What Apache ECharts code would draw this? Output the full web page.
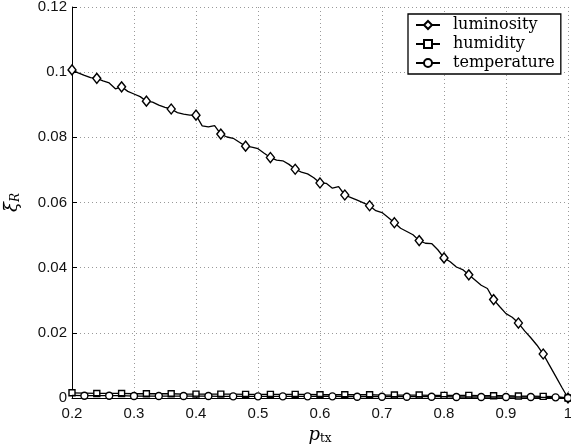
<!DOCTYPE html>
<html>
<head>
<meta charset="utf-8">
<script src="https://cdn.jsdelivr.net/npm/echarts@6/dist/echarts.min.js"></script>
<style>
  html, body { margin: 0; padding: 0; background: #fff; }
  #chart { width: 571px; height: 445px; }
</style>
</head>
<body>
<div id="chart"></div>
<script>
// Transmission probability grid (fine: 0.01 step, coarse: 0.02 step)
const pTxFine = [
  0.20, 0.21, 0.22, 0.23, 0.24, 0.25, 0.26, 0.27, 0.28, 0.29,
  0.30, 0.31, 0.32, 0.33, 0.34, 0.35, 0.36, 0.37, 0.38, 0.39,
  0.40, 0.41, 0.42, 0.43, 0.44, 0.45, 0.46, 0.47, 0.48, 0.49,
  0.50, 0.51, 0.52, 0.53, 0.54, 0.55, 0.56, 0.57, 0.58, 0.59,
  0.60, 0.61, 0.62, 0.63, 0.64, 0.65, 0.66, 0.67, 0.68, 0.69,
  0.70, 0.71, 0.72, 0.73, 0.74, 0.75, 0.76, 0.77, 0.78, 0.79,
  0.80, 0.81, 0.82, 0.83, 0.84, 0.85, 0.86, 0.87, 0.88, 0.89,
  0.90, 0.91, 0.92, 0.93, 0.94, 0.95, 0.96, 0.97, 0.98, 0.99,
  1.00
];
const pTxCoarse = [
  0.20, 0.22, 0.24, 0.26, 0.28, 0.30, 0.32, 0.34, 0.36, 0.38,
  0.40, 0.42, 0.44, 0.46, 0.48, 0.50, 0.52, 0.54, 0.56, 0.58,
  0.60, 0.62, 0.64, 0.66, 0.68, 0.70, 0.72, 0.74, 0.76, 0.78,
  0.80, 0.82, 0.84, 0.86, 0.88, 0.90, 0.92, 0.94, 0.96, 0.98,
  1.00
];

// Mean relative error per sensed quantity
const luminosity = [
  0.1007, 0.0998, 0.0990, 0.0983, 0.0981, 0.0973, 0.0967, 0.0949, 0.0955, 0.0941,
  0.0933, 0.0925, 0.0911, 0.0908, 0.0899, 0.0892, 0.0887, 0.0876, 0.0871, 0.0868,
  0.0868, 0.0835, 0.0832, 0.0836, 0.0810, 0.0801, 0.0797, 0.0785, 0.0773, 0.0770,
  0.0765, 0.0751, 0.0738, 0.0730, 0.0728, 0.0717, 0.0702, 0.0693, 0.0688, 0.0676,
  0.0660, 0.0659, 0.0644, 0.0649, 0.0623, 0.0615, 0.0607, 0.0599, 0.0590, 0.0575,
  0.0569, 0.0554, 0.0538, 0.0521, 0.0511, 0.0501, 0.0483, 0.0475, 0.0474, 0.0455,
  0.0430, 0.0418, 0.0402, 0.0394, 0.0378, 0.0362, 0.0346, 0.0336, 0.0302, 0.0280,
  0.0259, 0.0248, 0.0230, 0.0206, 0.0185, 0.0162, 0.0135, 0.0101, 0.0067, 0.0033,
  0.0000
];
const humidity = [
  0.0016, 0.0015, 0.0014, 0.0014, 0.0014, 0.0013, 0.0013, 0.0013, 0.0013, 0.0012,
  0.0012, 0.0012, 0.0012, 0.0012, 0.0011, 0.0011, 0.0011, 0.0011, 0.0011, 0.0011,
  0.0010, 0.0010, 0.0010, 0.0010, 0.0010, 0.0009, 0.0009, 0.0009, 0.0009, 0.0008,
  0.0008, 0.0008, 0.0008, 0.0007, 0.0007, 0.0007, 0.0006, 0.0006, 0.0005, 0.0004,
  0.0000
];
const temperature = [
  0.0008, 0.0007, 0.0007, 0.0007, 0.0007, 0.0006, 0.0006, 0.0006, 0.0006, 0.0006,
  0.0006, 0.0006, 0.0005, 0.0005, 0.0005, 0.0005, 0.0005, 0.0005, 0.0005, 0.0005,
  0.0005, 0.0005, 0.0004, 0.0004, 0.0004, 0.0004, 0.0004, 0.0004, 0.0004, 0.0004,
  0.0004, 0.0003, 0.0003, 0.0003, 0.0003, 0.0003, 0.0003, 0.0003, 0.0002, 0.0002,
  0.0000
];

const xTicks = ['0.2', '0.3', '0.4', '0.5', '0.6', '0.7', '0.8', '0.9', '1'];
const yTicks = ['0', '0.02', '0.04', '0.06', '0.08', '0.1', '0.12'];

// Build [x, y] points; only selected points carry a marker
function points(xs, ys, hasMarker) {
  return xs.map((x, i) => {
    const item = { value: [x, ys[i]] };
    if (!hasMarker(i, xs.length)) item.symbol = 'none';
    return item;
  });
}

const lineStyle = { color: '#000', width: 1.3 };
const markerStyle = { color: '#fff', borderColor: '#000', borderWidth: 1.4 };

const chart = echarts.init(document.getElementById('chart'), null, { renderer: 'canvas' });
chart.setOption({
  animation: false,
  backgroundColor: '#fff',
  grid: { left: 72, right: 3, top: 7, bottom: 47, containLabel: false, outerBoundsMode: 'none' },
  legend: {
    orient: 'vertical',
    left: 408,
    top: 14,
    backgroundColor: '#fff',
    borderColor: '#000',
    borderWidth: 1.3,
    borderRadius: 0,
    padding: [3, 6, 3, 7],
    itemWidth: 24,
    itemHeight: 10,
    itemGap: 3,
    textStyle: {
      fontFamily: 'DejaVu Serif',
      fontSize: 16,
      color: '#000',
      lineHeight: 16,
      padding: [0, 0, 0, 8]
    },
    data: ['luminosity', 'humidity', 'temperature']
  },
  xAxis: {
    type: 'value',
    min: 0.2,
    max: 1,
    interval: 0.1,
    name: '{p|p}{s|tx}',
    nameLocation: 'middle',
    nameGap: 23,
    nameTextStyle: {
      rich: {
        p: { fontFamily: 'DejaVu Serif', fontStyle: 'italic', fontSize: 18, color: '#000' },
        s: { fontFamily: 'DejaVu Serif', fontSize: 12, color: '#000', padding: [8, 0, 0, 0] }
      }
    },
    axisLine: { show: true, onZero: false, lineStyle: { color: '#000', width: 1 } },
    axisTick: { show: true, inside: true, length: 5, lineStyle: { color: '#000' } },
    axisLabel: {
      margin: 8,
      fontFamily: 'Liberation Sans',
      fontSize: 15,
      color: '#111',
      formatter: v => xTicks[Math.round((v - 0.2) * 10)]
    },
    splitLine: { show: true, lineStyle: { color: '#999', type: [1, 3], width: 1 } }
  },
  yAxis: {
    type: 'value',
    min: 0,
    max: 0.12,
    interval: 0.02,
    name: '{a|ξ̄}{b|R}',
    nameLocation: 'middle',
    nameRotate: 90,
    nameGap: 50,
    nameTextStyle: {
      rich: {
        a: { fontFamily: 'DejaVu Serif', fontStyle: 'italic', fontSize: 18, color: '#000' },
        b: { fontFamily: 'DejaVu Serif', fontStyle: 'italic', fontSize: 12, color: '#000', padding: [8, 0, 0, 0] }
      }
    },
    axisLine: { show: true, onZero: false, lineStyle: { color: '#000', width: 1 } },
    axisTick: { show: true, inside: true, length: 5, lineStyle: { color: '#000' } },
    axisLabel: {
      margin: 5,
      fontFamily: 'Liberation Sans',
      fontSize: 15,
      color: '#111',
      formatter: v => yTicks[Math.round(v / 0.02)]
    },
    splitLine: { show: true, lineStyle: { color: '#999', type: [1, 3], width: 1 } }
  },
  series: [
    {
      name: 'luminosity',
      type: 'line',
      symbol: 'diamond',
      symbolSize: [8, 10],
      showAllSymbol: true,
      lineStyle: lineStyle,
      itemStyle: markerStyle,
      data: points(pTxFine, luminosity, i => i % 4 === 0),
      z: 2
    },
    {
      name: 'humidity',
      type: 'line',
      symbol: 'rect',
      symbolSize: 6,
      showAllSymbol: true,
      lineStyle: lineStyle,
      itemStyle: markerStyle,
      data: points(pTxCoarse, humidity, i => i % 2 === 0),
      z: 3
    },
    {
      name: 'temperature',
      type: 'line',
      symbol: 'circle',
      symbolSize: 7,
      showAllSymbol: true,
      lineStyle: lineStyle,
      itemStyle: markerStyle,
      data: points(pTxCoarse, temperature, (i, n) => i % 2 === 1 || i === n - 1),
      z: 4
    }
  ]
});
</script>
</body>
</html>
